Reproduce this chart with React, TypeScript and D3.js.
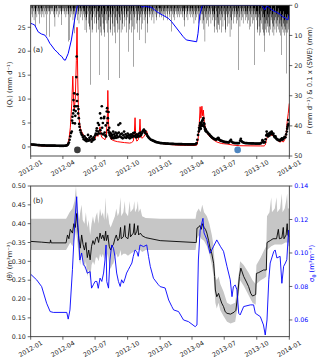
import React from "react";
import * as d3 from "d3";

const START = new Date(2012, 0, 1);
const END = new Date(2014, 0, 1);
const dayToDate = (d: number) => d3.timeDay.offset(START, d);

// x tick labels
const xTickLabels = ["2012-01", "2012-04", "2012-07", "2012-10", "2013-01", "2013-04", "2013-07", "2013-10", "2014-01"];
const qTicks = [0, 5, 10, 15, 20, 25];
const pTicks = [0, 10, 20, 30, 40, 50];
const thetaTicks = [0.1, 0.15, 0.2, 0.25, 0.3, 0.35, 0.4, 0.45, 0.5];
const sigmaTicks = [0.06, 0.08, 0.1, 0.12, 0.14];

// daily precipitation (mm/d), one row per month, Jan 2012 .. Dec 2013
const precipMonths: number[][] = [
  [2,1,0,3,4,1,0,0,2,5,1,0,3,7,2,0,1,4,2,0,0,3,1,2,0,6,3,1,0,2,4],
  [1,0,2,3,0,1,4,2,0,0,3,1,0,2,10,1,0,3,2,0,1,10.4,2,0,1,3,0,2,1],
  [0,2,1,3,0,0,4,2,7,1,0,2,3,1,0,0,2,4,1,0,3,1,0,2,1,0,3,6.5,2,0,1],
  [2,0,1,3,2,0,0,1,4,2,0,3,1,0,2,12,3,1,0,11.5,2,4,1,0,2,3,1,0,5,2],
  [3,1,9.3,2,0,4,1,3,0,2,5,1,0,3,2,6,1,0,2,4,1,3,0,2,5,1,0,3,2,1,4],
  [2,8.2,3,0,5,9,4,1,0,3,6,2,0,8,7,1,26.4,3,0,2,5,9,4,8,1,0,3,6,2,1],
  [4,1,0,6,9,3,2,0,5,8,2,23.1,4,1,0,7,9,3,10,2,0,4,6,1,8,9,10.4,3,0,2,5],
  [3,0,6,9,2,1,5,24.8,4,0,2,8,9,3,1,0,4,10,6,2,0,3,7,9,1,0,12.6,4,2,0,5],
  [6,9,2,0,3,8,4,24.1,1,0,5,9,3,2,0,6,8,1,0,3,4,7,2,0,1,5,9,3,0,2],
  [4,15.4,2,0,6,8,1,3,0,5,9,2,1,0,7,3,20.4,2,0,4,8,1,0,3,6,2,0,5,9,1,3],
  [2,5,0,11.5,3,1,4,8,2,0,3,6,1,0,2,5,3,0,12.6,2,4,1,0,3,6,9,2,0,1,3],
  [2,4,1,0,3,5,2,0,1,3,4,0,2,6,1,0,3,2,0,4,1,5,2,0,3,1,0,2,4,1,3],
  [1,3,0,2,4,1,0,3,2,5,0,1,3,2,0,4,1,0,2,3,1,5,0,2,1,3,0,4,2,1,0],
  [2,8.7,1,0,3,2,4,0,1,3,5,2,0,1,3,0,2,4,1,0,3,2,0,1,4,2,0,3],
  [1,0,3,2,4,0,1,2,5,3,7,1,0,2,4,1,0,3,2,5,1,0,2,3,0,1,4,2,0,3,1],
  [2,4,1,0,3,6,2,0,1,5,3,0,2,4,1,0,3,6,2,1,0,4,2,5,1,0,3,2,6,1],
  [3,0,5,8,2,1,12,4,0,3,6,2,0,1,5,3,0,7,2,1,4,0,3,6,1,0,2,5,3,0,4],
  [2,7,9,3,0,1,5,8,2,0,4,9,6,6.5,1,0,3,8,2,0,5,9,3,1,0,4,7,2,0,3],
  [5,1,0,8,9,3,2,0,4,7,1,0,3,6,2,0,10.4,4,1,0,5,8,2,0,3,6,1,0,2,4,3],
  [1,0,4,6,2,0,3,5,1,21.5,2,0,4,7,1,0,3,5,2,0,1,4,6,0,2,3,1,0,5,2,3],
  [4,0,2,6,3,1,0,5,8,2,0,3,7,1,0,4,2,6,0,1,3,5,2,19.8,1,0,4,3,2,5],
  [3,8,9,2,0,4,7,10,3,1,5,9,6,2,0,8,4,1,3,9,10,15.4,4,6,8,2,0,5,9,7,3],
  [6,9,4,1,7,10,3,2,8,5,0,4,9,6,3,1,7,10,2,5,8,4,0,6,9,3,2,7,5,1],
  [4,8,9,3,6,10,2,5,7,16.5,4,8,3,9,6,2,10,5,7,3,8,9,4,22.6,6,3,9,5,8,4,7],
];

// 0.1 x SWE (mm), [day, value]
const swe: [number, number][] = [
  [0,6.0],[5,6.2],[11,6.5],[21,8.8],[30,9.5],[40,9.9],[47,11],[54,12.6],[60,13.5],[68,14.8],[75,15.5],[82,16.5],[88,17],[94,18.1],[98,18.2],[106,16.0],[115,11.5],[124,4.9],[132,0],
  [310,0],[316,0.6],[322,0.2],[330,0.5],[340,0.6],[350,1.5],[360,2.4],[389,4.3],[398,5.4],[431,10.4],[440,11.5],[469,12.1],[473,9.3],[478,3.2],[485,0],
  [654,0],[658,0.8],[662,1.5],[666,0.5],[670,0.3],[676,1.0],[685,1.8],[695,2.3],[705,3.0],[712,3.8],[720,4.2],[725,4.9],[728,4.5],[731,3.0],
];

// modelled discharge <Q> (mm/d), [day, value]
const qModel: [number, number][] = [
  [0,0.4],[15,0.3],[30,0.2],[50,0.12],[80,0.1],[100,0.12],[104,0.5],[108,1.5],[112,4],[116,9],[119,14.8],[121,10],[123,7.8],[126,10],[129,18],[131,25],[133,14],[135,7.6],[138,5],[141,3.8],[144,3.2],[150,2.4],[154,2.1],[160,1.6],[168,1.4],[175,1.5],[182,1.7],[187,2.9],[190,2.2],[193,3.2],[196,4.2],[199,2.5],[201,2.0],[205,1.8],[210,1.5],[214,2.5],[217,7],[218,11.8],[220,5],[222,2.8],[227,1.6],[235,1.3],[245,1.1],[255,1.0],[265,0.9],[280,0.8],[285,0.9],[290,1.2],[293,3],[295,6.1],[297,2],[300,1.2],[304,1.5],[307,3],[309,5.8],[311,2.5],[315,1.8],[320,2.2],[325,2.8],[328,3.3],[332,2.0],[340,1.5],[350,1.1],[365,0.8],[380,0.6],[400,0.45],[420,0.35],[440,0.3],[465,0.3],[470,0.4],[473,1.5],[476,4],[479,8.4],[481,6],[484,8.5],[486,6.5],[488,7.7],[491,5],[495,3.8],[499,2.85],[505,2.2],[510,1.9],[520,1.3],[527,1.0],[540,0.7],[555,0.6],[570,0.4],[590,0.25],[620,0.22],[650,0.2],[660,0.2],[663,0.4],[666,1.3],[670,2.5],[674,2.2],[678,2.8],[682,2.3],[686,2.6],[690,2.0],[695,1.6],[700,1.2],[705,1.0],[710,1.3],[714,1.0],[718,1.5],[722,2.5],[725,5.3],[728,7],[731,9.1],
];

// observed discharge (mm/d), [day, value]
const qObs: [number, number][] = [
  [0,0.55],[3,0.5],[6,0.48],[9,0.46],[12,0.44],[15,0.42],[18,0.4],[21,0.38],[24,0.36],[27,0.35],[30,0.33],[33,0.32],[36,0.3],[39,0.3],[42,0.29],[45,0.28],[48,0.28],[51,0.27],[54,0.27],[57,0.26],[60,0.26],[63,0.25],[66,0.25],[69,0.25],[72,0.24],[75,0.24],[78,0.24],[81,0.23],[84,0.23],[87,0.23],[90,0.23],[93,0.23],[96,0.24],[99,0.25],[102,0.3],
  [104,0.4],[106,0.6],[108,0.9],[110,1.5],[112,2.2],[114,2.9],[116,3.2],[117,5.5],[118,6.3],[119,5.0],[120,7.0],[121,9.8],[122,7.7],[123,11.2],[124,8.5],[125,4.9],[126,6.5],[127,7.5],[128,8.5],[129,14.6],[130,18.9],[131,9.6],[132,11.0],[133,8.5],[134,7.0],[135,7.9],[136,6.0],[137,4.8],[138,4.2],[140,3.5],[142,3.0],[144,2.6],[146,2.4],
  [148,2.0],[150,1.6],[152,2.2],[154,1.4],[156,1.8],[158,1.2],[160,1.6],[162,2.5],[164,1.3],[166,1.9],[168,1.5],[170,2.2],[172,1.1],[174,1.7],[176,1.4],[178,2.0],[180,1.6],[182,2.4],[184,2.8],[186,3.4],[187,3.9],[188,2.6],[190,5.0],[191,3.2],[193,4.6],[194,2.8],[196,7.0],[197,3.5],[199,6.0],[200,2.8],[201,8.5],[202,4.0],[204,5.0],[205,2.6],[207,6.0],[208,6.3],[209,3.0],[211,2.4],[212,4.5],[213,2.2],[215,7.4],[216,8.1],[217,5.0],[218,6.0],[219,3.5],[220,7.3],[221,3.0],[222,4.0],[223,2.5],[224,3.0],[226,2.2],[227,2.8],[229,1.8],[230,2.5],[232,2.0],[233,3.2],[235,1.8],[236,2.6],[238,2.2],[240,3.0],[241,1.9],[243,2.4],[245,2.8],[246,2.0],[248,4.6],[249,3.0],[251,2.2],[253,4.9],[254,2.6],[256,2.0],[258,2.8],[260,1.8],[262,2.4],[264,3.2],[266,2.0],[268,2.6],[270,1.9],[272,2.3],[274,2.8],[276,2.0],[278,2.5],[280,1.8],[282,2.2],[284,2.6],[286,2.0],[288,2.4],[290,2.9],[292,2.2],[294,3.0],[296,2.4],[298,2.0],[300,2.6],[302,2.1],[304,2.4],[306,2.8],[308,2.2],[310,3.0],[312,2.5],[314,2.8],[316,3.2],[318,3.4],[320,3.6],[322,3.0],[324,3.3],[326,2.8],[328,2.6],[330,2.3],[332,2.1],[334,1.9],[337,1.7],[340,1.5],[343,1.4],[346,1.3],[349,1.2],[352,1.1],[355,1.0],[358,0.95],[361,0.9],[364,0.85],[367,0.8],
  [370,0.78],[373,0.76],[376,0.74],[379,0.72],[382,0.7],[385,0.69],[388,0.68],[391,0.66],[394,0.65],[397,0.64],[400,0.63],[403,0.62],[406,0.61],[409,0.6],[412,0.6],[415,0.59],[418,0.58],[421,0.58],[424,0.57],[427,0.57],[430,0.56],[433,0.56],[436,0.55],[439,0.55],[442,0.55],[445,0.54],[448,0.54],[451,0.54],[454,0.54],[457,0.55],[460,0.55],[463,0.56],[466,0.58],[469,0.8],
  [471,1.5],[473,2.5],[475,3.2],[476,4.0],[477,3.6],[478,4.5],[479,5.0],[480,4.2],[481,3.8],[482,4.8],[483,5.2],[484,4.4],[485,5.5],[486,4.6],[487,5.6],[488,6.0],[489,5.0],[490,4.3],[491,4.8],[492,4.0],[493,3.7],[494,3.4],[495,3.6],[496,3.2],[498,3.2],[500,3.0],[502,2.8],[504,2.7],[506,2.5],[508,2.3],[510,2.2],[512,2.0],[514,1.9],[516,1.8],[518,1.7],[520,1.6],[522,1.6],[524,1.5],[526,1.7],[528,1.6],[530,1.9],[531,1.8],[533,1.5],[535,1.4],[537,1.3],[539,1.25],[542,1.2],[545,1.1],[548,1.05],[551,1.0],[554,1.0],[557,0.95],[560,0.9],[563,1.2],[566,1.5],[568,1.1],[571,0.9],[574,0.85],[577,0.8],[580,0.8],[583,0.78],[586,0.78],[589,0.8],[592,1.3],[594,1.7],[596,1.2],[599,1.0],[602,0.9],[605,0.82],[608,0.8],[611,0.78],[614,0.76],[617,0.75],[620,0.74],[623,0.73],[626,0.72],[629,0.72],[632,0.71],[635,0.7],[638,0.7],[641,0.7],[644,0.7],[647,0.7],[650,0.72],[653,0.9],[655,1.4],[657,1.2],[659,0.9],[662,1.0],[664,1.6],[666,2.4],[667,3.2],[668,2.6],[670,2.5],[671,2.2],[673,2.8],[675,2.4],[677,3.0],[679,2.7],[681,3.2],[682,2.9],[684,2.6],[686,2.8],[688,2.3],[690,2.0],[692,2.2],[694,1.8],[696,1.6],[698,1.5],[700,1.4],[702,1.5],[704,1.3],[706,1.4],[708,1.6],[710,1.8],[712,1.5],[714,1.7],[716,1.9],[718,2.1],[720,2.0],[722,2.6],[724,3.2],[725,3.8],[726,4.2],[727,4.6],[728,5.6],[729,4.8],[730,4.6],
];

// sampling-date markers
const markerDays = [132, 585];
const markerQ = [-0.63, -0.63];
const markerColors = ["#3c3c3c", "#4f86c0"];

// mean soil moisture <theta> and ensemble range
const thetaMean: [number, number][] = [
  [0,0.353],[30,0.351],[55,0.349],[56,0.357],[58,0.349],[100,0.349],[104,0.37],[108,0.36],[112,0.385],[118,0.375],[122,0.40],[126,0.39],[130,0.427],[133,0.39],[136,0.36],[140,0.335],[144,0.37],[148,0.345],[152,0.33],[156,0.35],[160,0.31],[164,0.33],[168,0.304],[172,0.34],[176,0.355],[180,0.345],[184,0.36],[188,0.365],[192,0.35],[196,0.375],[200,0.36],[204,0.37],[208,0.355],[212,0.38],[214,0.355],[218,0.37],[222,0.34],[226,0.33],[230,0.34],[234,0.345],[238,0.36],[242,0.37],[246,0.355],[250,0.36],[254,0.39],[256,0.36],[262,0.365],[266,0.395],[268,0.365],[275,0.36],[280,0.40],[282,0.365],[290,0.375],[293,0.40],[295,0.37],[300,0.38],[303,0.395],[305,0.37],[310,0.375],[315,0.368],[325,0.363],[340,0.36],[366,0.355],
  [465,0.350],[468,0.350],[470,0.388],[474,0.39],[478,0.395],[482,0.385],[486,0.40],[490,0.39],[494,0.385],[498,0.375],[503,0.355],[507,0.335],[512,0.32],[517,0.295],[520,0.26],[522,0.224],[526,0.206],[531,0.215],[536,0.20],[540,0.189],[545,0.18],[550,0.166],[555,0.162],[565,0.160],[575,0.165],[580,0.17],[585,0.21],[590,0.26],[594,0.282],[602,0.26],[610,0.245],[616,0.233],[622,0.215],[627,0.208],[632,0.21],[636,0.212],[638,0.268],[644,0.27],[658,0.277],[666,0.277],[668,0.35],[677,0.355],[685,0.36],[695,0.36],[700,0.385],[703,0.36],[710,0.362],[714,0.39],[716,0.36],[722,0.37],[725,0.40],[727,0.37],[731,0.365],
];
const thetaUpper: [number, number][] = [
  [0,0.413],[100,0.413],[104,0.42],[110,0.43],[118,0.44],[124,0.46],[128,0.50],[130,0.47],[133,0.44],[137,0.41],[140,0.43],[144,0.45],[147,0.41],[152,0.40],[156,0.43],[160,0.39],[164,0.41],[168,0.37],[172,0.40],[176,0.42],[180,0.40],[184,0.42],[188,0.43],[191,0.40],[196,0.44],[200,0.42],[204,0.43],[208,0.41],[212,0.47],[214,0.41],[218,0.43],[222,0.40],[226,0.39],[230,0.40],[234,0.41],[238,0.42],[242,0.44],[246,0.42],[250,0.43],[254,0.47],[256,0.42],[262,0.43],[266,0.46],[268,0.43],[275,0.42],[280,0.46],[282,0.43],[290,0.44],[293,0.46],[295,0.43],[300,0.44],[303,0.46],[305,0.43],[310,0.44],[315,0.42],[325,0.415],[366,0.413],
  [466,0.413],[469,0.43],[475,0.44],[480,0.43],[485,0.45],[490,0.43],[498,0.42],[505,0.40],[512,0.37],[517,0.34],[522,0.26],[526,0.25],[531,0.26],[536,0.24],[545,0.22],[555,0.19],[565,0.185],[578,0.19],[585,0.24],[592,0.30],[602,0.29],[616,0.27],[627,0.25],[636,0.24],[638,0.29],[650,0.31],[660,0.33],[666,0.34],[668,0.42],[675,0.43],[680,0.47],[682,0.43],[690,0.44],[695,0.47],[697,0.43],[705,0.44],[710,0.48],[712,0.43],[718,0.44],[722,0.46],[725,0.48],[727,0.44],[731,0.44],
];
const thetaLower: [number, number][] = [
  [0,0.330],[100,0.330],[106,0.34],[112,0.35],[118,0.34],[124,0.36],[128,0.38],[132,0.35],[136,0.31],[140,0.29],[144,0.32],[148,0.30],[152,0.28],[156,0.30],[160,0.26],[164,0.28],[168,0.25],[172,0.29],[176,0.30],[180,0.29],[184,0.31],[188,0.31],[192,0.30],[196,0.32],[200,0.31],[204,0.32],[208,0.305],[212,0.33],[214,0.30],[218,0.32],[222,0.29],[226,0.28],[230,0.29],[234,0.295],[238,0.31],[242,0.32],[246,0.31],[250,0.315],[254,0.33],[256,0.315],[262,0.32],[268,0.32],[275,0.315],[282,0.32],[290,0.325],[300,0.33],[310,0.33],[315,0.325],[325,0.33],[366,0.330],
  [466,0.330],[470,0.36],[476,0.37],[482,0.36],[490,0.355],[498,0.34],[505,0.32],[512,0.29],[517,0.26],[522,0.19],[526,0.175],[531,0.19],[536,0.17],[545,0.155],[555,0.14],[565,0.135],[578,0.14],[585,0.18],[592,0.25],[602,0.235],[616,0.21],[627,0.19],[636,0.185],[638,0.24],[650,0.25],[660,0.255],[666,0.26],[668,0.33],[680,0.34],[690,0.345],[700,0.345],[710,0.345],[720,0.35],[731,0.35],
];

// spatial std of theta
const sigmaTheta: [number, number][] = [
  [0,0.0873],[17,0.0839],[31,0.0799],[45,0.070],[55,0.065],[64,0.0645],[102,0.0645],[106,0.0605],[111,0.066],[118,0.09],[125,0.1197],[130,0.1336],[133,0.118],[135,0.112],[139,0.0958],[144,0.100],[149,0.093],[154,0.0918],[160,0.0879],[168,0.0889],[172,0.079],[177,0.081],[182,0.083],[187,0.083],[191,0.0789],[196,0.085],[201,0.083],[206,0.088],[210,0.0958],[213,0.1048],[215,0.083],[220,0.079],[224,0.0958],[229,0.1048],[234,0.1028],[238,0.098],[243,0.088],[248,0.083],[253,0.080],[257,0.084],[262,0.082],[267,0.085],[271,0.088],[276,0.090],[281,0.092],[286,0.094],[290,0.098],[295,0.1018],[300,0.1008],[304,0.098],[309,0.1048],[319,0.1038],[328,0.1048],[333,0.098],[338,0.092],[347,0.0849],[361,0.081],[366,0.0799],[380,0.0791],[390,0.0719],[399,0.068],[404,0.066],[418,0.065],[432,0.060],[446,0.059],[465,0.056],[470,0.057],[474,0.0958],[479,0.1137],[487,0.1207],[490,0.112],[498,0.108],[507,0.0998],[517,0.104],[526,0.1078],[536,0.104],[545,0.101],[555,0.0918],[564,0.084],[569,0.0739],[573,0.0799],[578,0.0809],[583,0.078],[588,0.064],[592,0.063],[602,0.068],[621,0.069],[630,0.069],[635,0.064],[649,0.062],[658,0.057],[663,0.051],[668,0.060],[673,0.084],[677,0.094],[687,0.1008],[691,0.1018],[696,0.097],[705,0.098],[710,0.0819],[715,0.092],[720,0.094],[724,0.096],[729,0.1137],[731,0.104],
];

const FONT = "DejaVu Sans, sans-serif";
const TXT = "#222";

export default function App() {
  const X0 = 30.7, X1 = 289.3;
  const T0 = 5.3, T1 = 156;
  const B0 = 186, B1 = 336.7;
  const x = d3.scaleTime().domain([START, END]).range([X0, X1]);
  const xd = (d: number) => x(dayToDate(d));
  const yQ = d3.scaleLinear().domain([-1.9, 29.6]).range([T1, T0]);
  const yP = d3.scaleLinear().domain([0, 50]).range([T0, T1]);
  const yT = d3.scaleLinear().domain([0.1, 0.5]).range([B1, B0]);
  const yS = d3.scaleLinear().domain([0.05, 0.14]).range([B1, B0]);
  const parse = d3.timeParse("%Y-%m");

  // all daily bars in one path so touching bars merge into solid black
  const barPath = d3.path();
  precipMonths.forEach((vals, m) => {
    const s = d3.timeDay.count(START, new Date(2012, m, 1));
    vals.forEach((v, i) => {
      if (v <= 0) return;
      const a = xd(s + i), b = xd(s + i + 1);
      barPath.rect(a, yP(0), b - a, yP(v) - yP(0));
    });
  });

  const lineQ = d3.line<[number, number]>().x(d => xd(d[0])).y(d => yQ(d[1]));
  const lineP = d3.line<[number, number]>().x(d => xd(d[0])).y(d => yP(d[1]));
  const lineT = d3.line<[number, number]>().x(d => xd(d[0])).y(d => yT(d[1]));
  const lineS = d3.line<[number, number]>().x(d => xd(d[0])).y(d => yS(d[1]));

  const bandPath = (() => {
    const up = thetaUpper.map(d => [xd(d[0]), yT(d[1])]);
    const lo = thetaLower.slice().reverse().map(d => [xd(d[0]), yT(d[1])]);
    return "M" + up.map(p => p.join(",")).join("L") + "L" + lo.map(p => p.join(",")).join("L") + "Z";
  })();

  const xAxis = (yb: number, key: string) => (
    <g key={key}>
      {xTickLabels.map(l => {
        const tx = x(parse(l) as Date);
        return (
          <g key={l}>
            <line x1={tx} x2={tx} y1={yb} y2={yb + 3} stroke={TXT} strokeWidth={0.7} />
            <text transform={`translate(${tx + 1},${yb + 14}) rotate(-30)`} textAnchor="middle" fontSize={6.3} fontFamily={FONT} fill={TXT}>{l}</text>
          </g>
        );
      })}
    </g>
  );

  // SWE zero stretches between snow seasons
  const sweAll: [number, number][] = [];
  swe.forEach((p, i) => {
    if (i > 0 && p[0] - swe[i - 1][0] > 60) sweAll.push([swe[i - 1][0], 0]);
    sweAll.push(p);
  });

  return (
    <svg width={320} height={361} style={{ position: "absolute", left: 0, top: 0, background: "#fff" }} fontFamily={FONT}>
      <defs>
        <clipPath id="clipTop"><rect x={X0} y={T0} width={X1 - X0} height={T1 - T0} /></clipPath>
        <clipPath id="clipBot"><rect x={X0} y={B0} width={X1 - X0} height={B1 - B0} /></clipPath>
      </defs>

      {/* ---------- panel (a) ---------- */}
      <g clipPath="url(#clipTop)">
        <path d={lineQ(qModel) || ""} fill="none" stroke="#ff0000" strokeWidth={1} />
        {qObs.map((d, i) => (
          <circle key={i} cx={xd(d[0])} cy={yQ(d[1])} r={1.35} fill="#000" />
        ))}
        {markerDays.map((d, i) => (
          <circle key={"m" + i} cx={xd(d)} cy={yQ(markerQ[i])} r={3.3} fill={markerColors[i]} />
        ))}
        <path d={barPath.toString()} fill="#000" stroke="none" />
        <path d={lineP(sweAll) || ""} fill="none" stroke="#0000ff" strokeWidth={1} />
      </g>
      <rect x={X0} y={T0} width={X1 - X0} height={T1 - T0} fill="none" stroke={TXT} strokeWidth={0.8} />
      {qTicks.map(t => (
        <g key={"q" + t}>
          <line x1={X0 - 3} x2={X0} y1={yQ(t)} y2={yQ(t)} stroke={TXT} strokeWidth={0.7} />
          <text x={X0 - 5} y={yQ(t) + 2.2} textAnchor="end" fontSize={6.3} fill={TXT}>{t}</text>
        </g>
      ))}
      {pTicks.map(t => (
        <g key={"p" + t}>
          <line x1={X1} x2={X1 + 3} y1={yP(t)} y2={yP(t)} stroke={TXT} strokeWidth={0.7} />
          <text x={X1 + 5} y={yP(t) + 2.2} textAnchor="start" fontSize={6.3} fill={TXT}>{t}</text>
        </g>
      ))}
      {xAxis(T1, "xa")}
      <text transform={`translate(12,${(T0 + T1) / 2 + 4}) rotate(-90)`} textAnchor="middle" fontSize={6.8} fill={TXT}>⟨Qₜ⟩ (mm d⁻¹)</text>
      <text transform={`translate(312,${(T0 + T1) / 2}) rotate(-90)`} textAnchor="middle" fontSize={6.8} fill={TXT}>P (mm d⁻¹) &amp; 0.1 x ⟨SWE⟩ (mm)</text>
      <text x={33} y={52} fontSize={7.2} fill={TXT}>(a)</text>

      {/* ---------- panel (b) ---------- */}
      <g clipPath="url(#clipBot)">
        <path d={bandPath} fill="#c6c6c6" stroke="none" />
        <path d={lineT(thetaMean) || ""} fill="none" stroke="#000" strokeWidth={0.9} />
        <path d={lineS(sigmaTheta) || ""} fill="none" stroke="#0000ff" strokeWidth={0.9} />
      </g>
      <rect x={X0} y={B0} width={X1 - X0} height={B1 - B0} fill="none" stroke={TXT} strokeWidth={0.8} />
      {thetaTicks.map(t => (
        <g key={"t" + t}>
          <line x1={X0 - 3} x2={X0} y1={yT(t)} y2={yT(t)} stroke={TXT} strokeWidth={0.7} />
          <text x={X0 - 5} y={yT(t) + 2.2} textAnchor="end" fontSize={6.3} fill={TXT}>{d3.format(".2f")(t)}</text>
        </g>
      ))}
      {sigmaTicks.map(t => (
        <g key={"s" + t}>
          <line x1={X1} x2={X1 + 3} y1={yS(t)} y2={yS(t)} stroke={TXT} strokeWidth={0.7} />
          <text x={X1 + 5} y={yS(t) + 2.2} textAnchor="start" fontSize={6.3} fill="#0000ff">{d3.format(".2f")(t)}</text>
        </g>
      ))}
      {xAxis(B1, "xb")}
      <text transform={`translate(12,${(B0 + B1) / 2}) rotate(-90)`} textAnchor="middle" fontSize={6.8} fill={TXT}>⟨θ⟩ (m³m⁻³)</text>
      <text transform={`translate(314,${(B0 + B1) / 2 + 2}) rotate(-90)`} textAnchor="middle" fontSize={6.8} fill="#0000ff">σ<tspan fontSize={5} dy={1.5}>θ</tspan><tspan dy={-1.5}> (m³m⁻³)</tspan></text>
      <text x={33} y={203} fontSize={7.2} fill={TXT}>(b)</text>
    </svg>
  );
}
